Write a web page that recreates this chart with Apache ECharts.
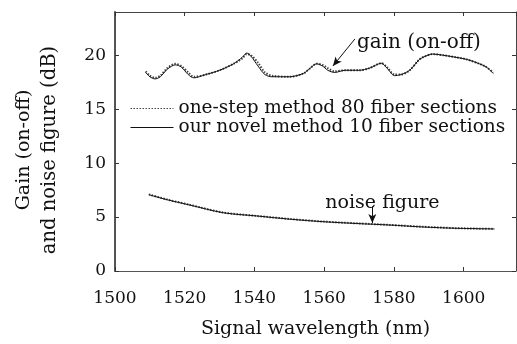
<!DOCTYPE html>
<html><head><meta charset="utf-8">
<script src="https://cdn.jsdelivr.net/npm/echarts@6/dist/echarts.min.js"></script>
<style>html,body{margin:0;padding:0;background:#fff}#c{width:517px;height:344px}</style>
</head><body><div id="c"></div>
<script>
// wavelength (nm), gain (dB) — our novel method, 10 fiber sections
const gainNovelWl = [1508.8,1510,1511.5,1513,1515,1517.3,1519,1521,1522.6,1526,1530,1534,1536.5,1537.8,1539,1541,1543,1545,1550,1554,1556,1557.8,1559.5,1561,1563,1566,1570,1573,1576.4,1578,1580.2,1582,1584.5,1587.3,1589,1591.1,1594,1597.8,1601,1604.5,1606.5,1608.5];
const gainNovel   = [18.4,18.0,17.8,18.0,18.7,19.1,18.9,18.2,17.9,18.2,18.6,19.2,19.8,20.2,19.9,19.0,18.2,18.0,18.0,18.3,18.8,19.2,19.0,18.6,18.4,18.6,18.6,18.8,19.25,18.8,18.1,18.2,18.6,19.6,19.9,20.1,20.0,19.8,19.6,19.2,18.9,18.3];
// one-step method, 80 fiber sections
const gainOneStep = [18.5,18.1,17.9,18.1,18.8,19.2,19.0,18.4,18.0,18.2,18.6,19.2,19.7,20.1,20.0,19.3,18.4,18.1,18.0,18.3,18.8,19.2,19.1,18.8,18.5,18.6,18.6,18.8,19.25,18.9,18.2,18.2,18.6,19.6,19.9,20.1,20.0,19.8,19.6,19.2,18.9,18.4];
// noise figure (dB)
const noiseWl      = [1509.7,1515,1521.6,1531,1540.7,1550.2,1559.7,1569.3,1578.8,1588.3,1597.8,1608.8];
const noiseNovel   = [7.07,6.6,6.1,5.4,5.1,4.8,4.57,4.4,4.26,4.08,3.96,3.9];
const noiseOneStep = [7.1,6.62,6.12,5.42,5.1,4.82,4.58,4.42,4.27,4.1,3.97,3.9];
const seriesNames = ['one-step method 80 fiber sections','our novel method 10 fiber sections'];
const xTicks = [1500,1520,1540,1560,1580,1600];
const yTicks = [0,5,10,15,20];

const FONT = '"DejaVu Serif", serif';
const TXT = 19;
const pair = (xs, ys) => xs.map((x,i)=>[x, ys[i]]);
const dotted = {color:'#444', width:2, type:[1.5,1.5]};
const solid = {color:'#111', width:1};
const tick = {show:true, inside:true, length:4, lineStyle:{color:'#333'}};

const chart = echarts.init(document.getElementById('c'), null, {renderer:'canvas'});
chart.setOption({
  animation:false,
  backgroundColor:'#fff',
  grid:{left:115, top:12, right:1, bottom:71},
  legend:{
    orient:'vertical', left:130, top:99, padding:0, itemWidth:43, itemHeight:10, itemGap:0,
    itemStyle:{color:'rgba(0,0,0,0)', borderColor:'rgba(0,0,0,0)', borderWidth:0},
    lineStyle:{width:1},
    textStyle:{fontFamily:FONT, fontSize:18.5, lineHeight:17, color:'#111'},
    data:seriesNames
  },
  xAxis:[{
    type:'value', min:1500, max:1615, interval:20,
    axisLine:{show:true, lineStyle:{color:'#555', width:1}},
    axisTick:tick,
    axisLabel:{fontFamily:FONT, fontSize:17, color:'#111', margin:19, showMaxLabel:false,
      formatter:v=>xTicks.includes(v)?String(v):''},
    splitLine:{show:false},
    name:'Signal wavelength (nm)', nameLocation:'middle', nameGap:49,
    nameTextStyle:{fontFamily:FONT, fontSize:TXT, color:'#111'}
  },{
    type:'value', min:1500, max:1615, interval:20, position:'top',
    axisLine:{show:true, onZero:false, lineStyle:{color:'#444', width:1}},
    axisTick:tick, axisLabel:{show:false}, splitLine:{show:false}
  }],
  yAxis:[{
    type:'value', min:0, max:24, interval:5,
    axisLine:{show:true, lineStyle:{color:'#555', width:2}},
    axisTick:tick,
    axisLabel:{fontFamily:FONT, fontSize:17, color:'#111', margin:9, showMaxLabel:false,
      formatter:v=>yTicks.includes(v)?String(v):''},
    splitLine:{show:false}
  },{
    type:'value', min:0, max:24, interval:5, position:'right',
    axisLine:{show:true, onZero:false, lineStyle:{color:'#444', width:1}},
    axisTick:tick, axisLabel:{show:false}, splitLine:{show:false}
  }],
  series:[
    {name:seriesNames[0], type:'line', data:pair(gainNovelWl, gainOneStep), symbol:'none', smooth:0.3, lineStyle:dotted, itemStyle:{color:'#444'}, z:2},
    {name:seriesNames[0], type:'line', data:pair(noiseWl, noiseOneStep), symbol:'none', smooth:0.3, lineStyle:dotted, itemStyle:{color:'#444'}, z:2},
    {name:seriesNames[1], type:'line', data:pair(gainNovelWl, gainNovel), symbol:'none', smooth:0.3, lineStyle:solid, itemStyle:{color:'#111'}, z:3,
      markLine:{silent:true, symbol:['none','arrow'], symbolSize:[6,9], label:{show:false},
        lineStyle:{color:'#111', width:1, type:'solid'},
        data:[
          [{coord:[1568.8,21.5]},{coord:[1562.5,19.0]}],
          [{coord:[1573.8,6.0]},{coord:[1573.8,4.45]}]
        ]}},
    {name:seriesNames[1], type:'line', data:pair(noiseWl, noiseNovel), symbol:'none', smooth:0.3, lineStyle:solid, itemStyle:{color:'#111'}, z:3}
  ]
});

const p1 = chart.convertToPixel({gridIndex:0},[1569.4,21.15]);
const p2 = chart.convertToPixel({gridIndex:0},[1576.7,6.25]);
chart.setOption({graphic:[
  {type:'text', x:p1[0], y:p1[1], style:{text:'gain (on-off)', font:'20px '+FONT, fill:'#111', textAlign:'left', textVerticalAlign:'middle'}},
  {type:'text', x:p2[0], y:p2[1], style:{text:'noise figure', font:TXT+'px '+FONT, fill:'#111', textAlign:'center', textVerticalAlign:'middle'}},
  {type:'text', x:24, y:150, rotation:Math.PI/2, style:{text:'Gain (on-off)', font:TXT+'px '+FONT, fill:'#111', textAlign:'center', textVerticalAlign:'middle'}},
  {type:'text', x:50, y:150, rotation:Math.PI/2, style:{text:'and noise figure (dB)', font:'19.5px '+FONT, fill:'#111', textAlign:'center', textVerticalAlign:'middle'}}
]});
</script></body></html>
